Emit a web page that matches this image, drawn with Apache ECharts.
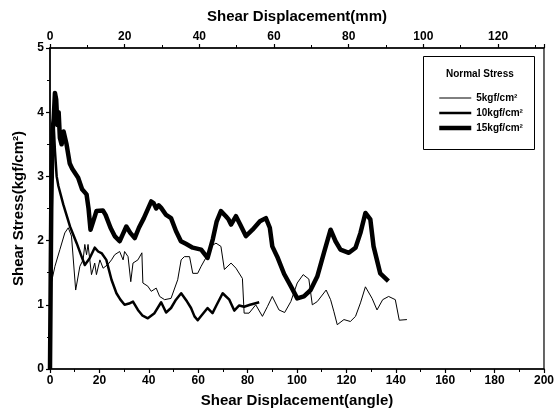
<!DOCTYPE html>
<html>
<head>
<meta charset="utf-8">
<script src="https://cdn.jsdelivr.net/npm/echarts@6/dist/echarts.min.js"></script>
<style>
  html, body { margin: 0; padding: 0; background: #fff; }
  #chart { width: 557px; height: 416px; }
</style>
</head>
<body>
<div id="chart"></div>
<script>
// shear displacement (angle) and shear stress (kgf/cm2)
var angle5 = [0, 0.3, 2, 4, 6, 7.4, 8.7, 10.4, 12.1, 13.4, 14.1, 14.8, 15.4, 16, 16.8, 18.1, 18.8, 20.2, 21.5, 23.5, 24.9, 26.2, 28.2, 29.6, 30.2, 31.6, 32.7, 33.6, 35.6, 37.2, 37.6, 39.6, 41, 43, 44.4, 46.4, 49, 51.7, 53.1, 54.4, 56.5, 57.8, 59.8, 61.2, 63.8, 65, 67.2, 69.2, 70.6, 73.3, 75.3, 77.9, 78.6, 80.6, 83.3, 86, 88, 90, 92.7, 95, 97.5, 100.1, 102.5, 104.8, 106.2, 108.2, 111.8, 113.6, 114.9, 116.3, 119, 121.6, 123.7, 125.7, 127.7, 130.4, 132.4, 134.7, 137.1, 139.8, 141.4, 144.5]
var stress5 = [0, 1.3, 1.6, 1.86, 2.12, 2.2, 2.07, 1.23, 1.6, 1.7, 1.94, 1.78, 1.94, 1.97, 1.47, 1.65, 1.47, 1.7, 1.57, 1.63, 1.7, 1.78, 1.83, 1.7, 1.83, 1.75, 1.36, 1.65, 1.7, 1.81, 1.34, 1.29, 1.21, 1.26, 1.13, 1.08, 1.1, 1.39, 1.7, 1.75, 1.75, 1.49, 1.49, 1.6, 1.78, 1.91, 1.96, 1.91, 1.55, 1.65, 1.57, 1.41, 0.87, 0.87, 1.0, 0.82, 0.97, 1.13, 0.92, 0.88, 1.05, 1.34, 1.47, 1.4, 1.0, 1.05, 1.23, 1.08, 0.9, 0.69, 0.77, 0.74, 0.82, 1.03, 1.28, 1.1, 0.92, 1.08, 1.13, 1.08, 0.76, 0.77]

var angle10 = [0, 0.5, 1, 1.5, 2, 2.7, 3.4, 5.4, 8.1, 10.8, 12.8, 14.1, 16, 18.1, 19.5, 21, 22.8, 24.9, 26.9, 28.5, 30.2, 32, 33.6, 35.6, 37.5, 39.6, 42.3, 45, 47, 49, 51, 53.1, 55.5, 57.1, 58.5, 59.8, 61.5, 63.8, 65.8, 67.5, 69.9, 72.6, 74.6, 76.6, 78.6, 81, 84.7]
var stress10 = [0, 2.8, 3.6, 3.8, 3.4, 3.0, 2.85, 2.56, 2.22, 1.96, 1.75, 1.62, 1.72, 1.89, 1.83, 1.8, 1.7, 1.39, 1.18, 1.08, 1.0, 1.02, 1.05, 0.92, 0.83, 0.79, 0.87, 1.04, 0.88, 0.95, 1.08, 1.18, 1.05, 0.95, 0.82, 0.76, 0.84, 0.95, 0.87, 1.0, 1.18, 1.08, 0.91, 0.99, 0.97, 1.0, 1.04]

var angle15 = [0, 0.5, 1, 1.5, 2, 2.5, 3, 3.5, 4, 4.7, 5.5, 6.7, 8, 9, 11.4, 13, 14.8, 15.6, 16.4, 17.5, 18.8, 21.4, 22.5, 24.5, 26.2, 28.2, 29.5, 30.9, 32.5, 34.3, 36, 38, 41, 42, 43, 44, 45, 47, 49, 51, 53, 55, 57.8, 61.2, 63.8, 65.9, 67.5, 69.2, 71.2, 72.3, 73.3, 75.3, 77, 79.3, 82, 85, 87.4, 89, 90, 92, 94.8, 97.5, 100.1, 102.8, 105.5, 108.2, 110.9, 113.6, 115.6, 117.6, 121, 123.7, 125.7, 127.7, 129.7, 131, 133.7, 137]
var stress15 = [0, 2.5, 3.7, 3.9, 4.3, 4.2, 3.8, 4.0, 3.6, 3.5, 3.7, 3.5, 3.2, 3.12, 2.98, 2.8, 2.72, 2.5, 2.17, 2.3, 2.46, 2.47, 2.4, 2.2, 2.07, 1.99, 2.1, 2.22, 2.12, 2.04, 2.2, 2.35, 2.61, 2.58, 2.5, 2.55, 2.51, 2.4, 2.35, 2.15, 1.99, 1.95, 1.89, 1.86, 1.73, 2.02, 2.3, 2.46, 2.38, 2.33, 2.25, 2.38, 2.25, 2.07, 2.17, 2.3, 2.35, 2.2, 1.91, 1.75, 1.48, 1.29, 1.1, 1.13, 1.23, 1.44, 1.81, 2.17, 1.99, 1.86, 1.81, 1.89, 2.12, 2.43, 2.33, 1.91, 1.49, 1.37]

var seriesNames = ['5kgf/cm²', '10kgf/cm²', '15kgf/cm²']
var lineWidths = [1, 2.5, 4.5]
var mmMax = 132.3 // top axis, 200 angle == ~132 mm

function pairs(xs, ys) {
  return xs.map((x, i) => [x, ys[i]])
}

var font = 'Liberation Sans'
var axisLabel = { color: '#000', fontFamily: font, fontWeight: 'bold', fontSize: 12 }
var axisLine = { show: true, lineStyle: { color: '#000', width: 1.5 } }
var tick = { show: true, length: 4, lineStyle: { color: '#000', width: 1.2 } }
var minor = { show: true, splitNumber: 2, length: 3, lineStyle: { color: '#000' } }
var nameStyle = { color: '#000', fontFamily: font, fontWeight: 'bold', fontSize: 15 }

var chart = echarts.init(document.getElementById('chart'), null, { renderer: 'canvas' })

chart.setOption({
  animation: false,
  backgroundColor: '#fff',
  grid: { left: 50, right: 11, top: 48, bottom: 47, show: true, borderColor: '#000', borderWidth: 1.2 },
  xAxis: [{
    type: 'value', min: 0, max: 200, interval: 20, position: 'bottom',
    name: 'Shear Displacement(angle)', nameLocation: 'middle', nameGap: 24, nameTextStyle: nameStyle,
    axisLine: axisLine, axisTick: tick, minorTick: minor, splitLine: { show: false },
    axisLabel: Object.assign({ margin: 6 }, axisLabel)
  }, {
    type: 'value', min: 0, max: mmMax, interval: 20, position: 'top',
    name: 'Shear Displacement(mm)', nameLocation: 'middle', nameGap: 24, nameTextStyle: nameStyle,
    axisLine: axisLine, axisTick: tick, minorTick: minor, splitLine: { show: false },
    axisLabel: Object.assign({ margin: 5, showMaxLabel: false }, axisLabel)
  }],
  yAxis: {
    type: 'value', min: 0, max: 5, interval: 1,
    name: 'Shear Stress(kgf/cm²)', nameLocation: 'middle', nameGap: 24, nameTextStyle: nameStyle,
    axisLine: axisLine, axisTick: tick, minorTick: minor, splitLine: { show: false },
    axisLabel: Object.assign({ margin: 6 }, axisLabel)
  },
  legend: {
    orient: 'vertical', left: 432, top: 88,
    itemWidth: 32, itemHeight: 12, itemGap: 5,
    itemStyle: { opacity: 0 },
    textStyle: { color: '#000', fontFamily: font, fontWeight: 'bold', fontSize: 10 },
    data: seriesNames.map((n, i) => ({ name: n, lineStyle: { width: lineWidths[i], color: '#000' } }))
  },
  graphic: [{
    type: 'rect', left: 423, top: 56,
    shape: { width: 111, height: 93 },
    style: { fill: '#fff', stroke: '#000', lineWidth: 1 },
    z: 0
  }, {
    type: 'text', left: 446, top: 69,
    style: { text: 'Normal Stress', fill: '#000', font: 'bold 10px "Liberation Sans"' },
    z: 10
  }],
  series: [{
    name: seriesNames[0], type: 'line', symbol: 'none', xAxisIndex: 0,
    lineStyle: { color: '#000', width: lineWidths[0] }, itemStyle: { color: '#000' },
    data: pairs(angle5, stress5)
  }, {
    name: seriesNames[1], type: 'line', symbol: 'none', xAxisIndex: 0,
    lineStyle: { color: '#000', width: lineWidths[1], join: 'round' }, itemStyle: { color: '#000' },
    data: pairs(angle10, stress10)
  }, {
    name: seriesNames[2], type: 'line', symbol: 'none', xAxisIndex: 0,
    lineStyle: { color: '#000', width: lineWidths[2], join: 'round' }, itemStyle: { color: '#000' },
    data: pairs(angle15, stress15)
  }]
})
</script>
</body>
</html>
